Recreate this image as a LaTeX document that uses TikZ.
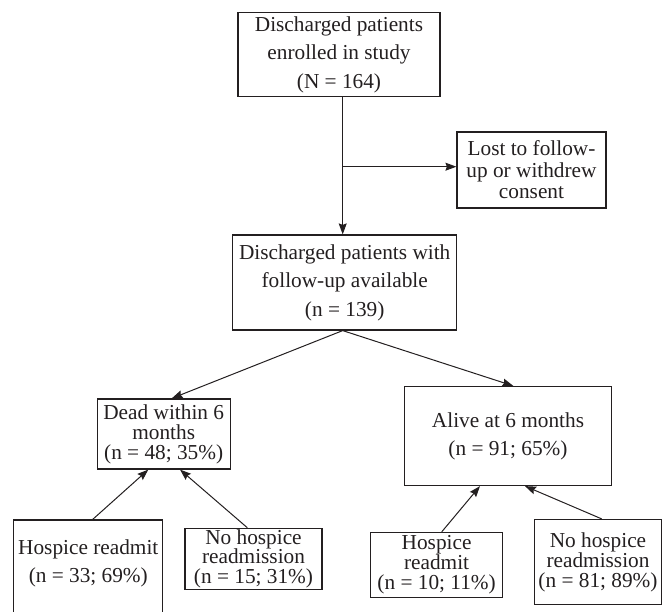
\documentclass[tikz,border=0pt]{standalone}
\usepackage{fontspec}
\setmainfont{Liberation Serif}
\usetikzlibrary{arrows.meta}
\definecolor{ink}{RGB}{35,31,32}
\begin{document}
\begin{tikzpicture}[x=1pt,y=-1pt,
  box/.style={draw=ink, line width=1.2pt, align=center, inner sep=0pt, text=ink, font=\fontsize{21.3}{28.5}\selectfont},
  conn/.style={draw=ink, line width=1pt, -{Stealth[length=11pt,width=8pt,inset=1.5pt]}},
  plain/.style={draw=ink, line width=1pt}
]
\useasboundingbox (0,0) rectangle (667,612);

\node[box, minimum width=202pt, minimum height=84pt] (top) at (339,54.7) {Discharged patients\\enrolled in study\\(N = 164)};
\node[box, minimum width=149pt, minimum height=76pt, font=\fontsize{21.3}{21.5}\selectfont] (lost) at (531.5,170) {Lost to follow-\\up or withdrew\\consent};
\node[box, minimum width=224pt, minimum height=95pt] (follow) at (344.7,282.5) {Discharged patients with\\follow-up available\\(n = 139)};
\node[box, minimum width=133pt, minimum height=70pt, font=\fontsize{21.3}{20}\selectfont] (dead) at (163.7,434) {Dead within 6\\months\\(n = 48; 35\%)};
\node[box, minimum width=207pt, minimum height=99pt, font=\fontsize{21.3}{28}\selectfont] (alive) at (508,436) {Alive at 6 months\\(n = 91; 65\%)};

\node[draw=ink, line width=1.2pt, minimum width=149pt, minimum height=110pt, inner sep=0pt] (h33) at (88.3,575) {};
\node[text=ink, align=center, inner sep=0pt, font=\fontsize{21.3}{28}\selectfont] (h33t) at (88.3,563.5) {Hospice readmit\\(n = 33; 69\%)};
\node[box, minimum width=137pt, minimum height=61pt, font=\fontsize{21.3}{19.5}\selectfont] (nh15) at (253.5,558.8) {No hospice\\readmission\\(n = 15; 31\%)};
\node[box, minimum width=132pt, minimum height=65pt, font=\fontsize{21.3}{20}\selectfont] (h10) at (436.6,565) {Hospice\\readmit\\(n = 10; 11\%)};
\node[box, minimum width=127pt, minimum height=85pt, font=\fontsize{21.3}{20}\selectfont] (nh81) at (598,562) {No hospice\\readmission\\(n = 81; 89\%)};

\coordinate (split) at (342.7,166.7);
\draw[plain] (top.south -| split) -- (split);
\draw[conn] (split) -- (follow.north -| split);
\draw[conn] (split) -- (lost.west |- split);

\draw[conn] (follow.south -| split) -- ([xshift=8pt]dead.north);
\draw[conn] (follow.south -| split) -- ([xshift=5.3pt]alive.north);

\draw[conn] ([xshift=4.4pt]h33.north) -- ([xshift=-15.4pt]dead.south);
\draw[conn] ([xshift=-6.2pt]nh15.north) -- ([xshift=16.3pt]dead.south);
\draw[conn] ([xshift=5.1pt]h10.north) -- ([xshift=-28pt]alive.south);
\draw[conn] ([xshift=3.7pt]nh81.north) -- ([xshift=17pt]alive.south);
\end{tikzpicture}
\end{document}
